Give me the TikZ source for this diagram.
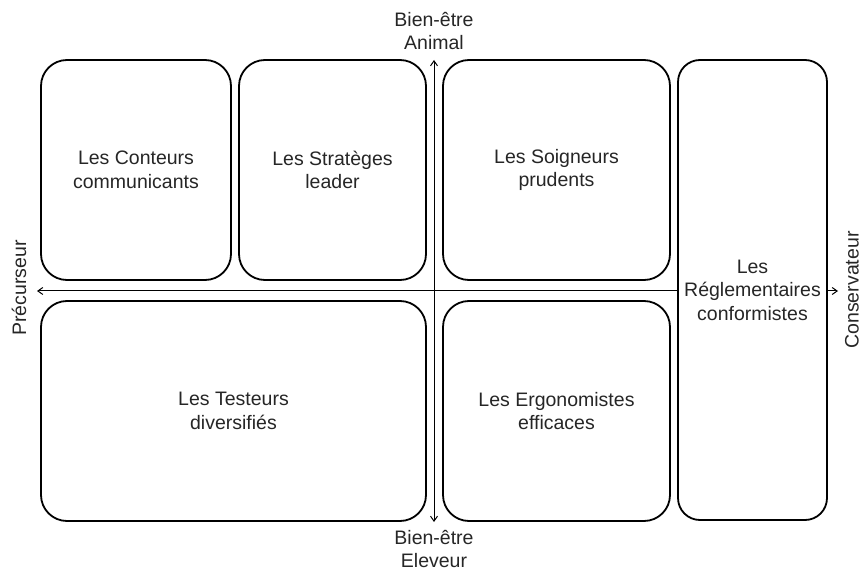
\documentclass[tikz,border=0pt]{standalone}
\usepackage{fontspec}
\setmainfont{Liberation Sans}
\usetikzlibrary{arrows.meta, positioning}

\begin{document}
\begin{tikzpicture}[
    x=1pt, y=-1pt,
    >={Straight Barb[length=5pt, width=7pt]},
    grp/.style={draw, line width=1.8pt, rounded corners=26pt, fill=white, inner sep=0pt,
        align=center, font=\fontsize{19.5}{23.5}\selectfont, text=black!85},
    axis/.style={line width=1pt, <->},
    axlbl/.style={align=center, inner sep=0pt, font=\fontsize{19.5}{23.5}\selectfont, text=black!85},
]
\useasboundingbox (0,0) rectangle (863,572);
% ----- axes
\coordinate (west) at (37,291); \coordinate (east) at (838,291);
\coordinate (north) at (434,60); \coordinate (south) at (434,522);
\draw[axis] (west) -- (east);
\draw[axis] (north) -- (south);
\node[axlbl] (animal) at (434,31) {Bien-être\\Animal};
\node[axlbl] (eleveur) at (434,549) {Bien-être\\Eleveur};
\node[axlbl, rotate=90] (precurseur) at (19,288) {Précurseur};
\node[axlbl, rotate=90] (conservateur) at (852,290) {Conservateur};
% ----- top row
\node[grp, minimum width=190pt, minimum height=220pt] (conteurs) at (136,170) {Les Conteurs\\communicants};
\node[grp, minimum width=187pt, minimum height=220pt] (strateges) at (332.5,170) {Les Stratèges\\leader};
\node[grp, minimum width=227pt, minimum height=220pt] (soigneurs) at (556.5,170) {Les Soigneurs\\prudents};
% ----- bottom row
\node[grp, minimum width=385pt, minimum height=220pt] (testeurs) at (233.5,411) {Les Testeurs\\diversifiés};
\node[grp, minimum width=227pt, minimum height=220pt] (ergonomistes) at (556.5,411) {Les Ergonomistes\\efficaces};
% ----- right column
\node[grp, rounded corners=22pt, minimum width=149pt, minimum height=460pt] (reglementaires) at (752.5,290) {Les\\Réglementaires\\conformistes};
\end{tikzpicture}
\end{document}
